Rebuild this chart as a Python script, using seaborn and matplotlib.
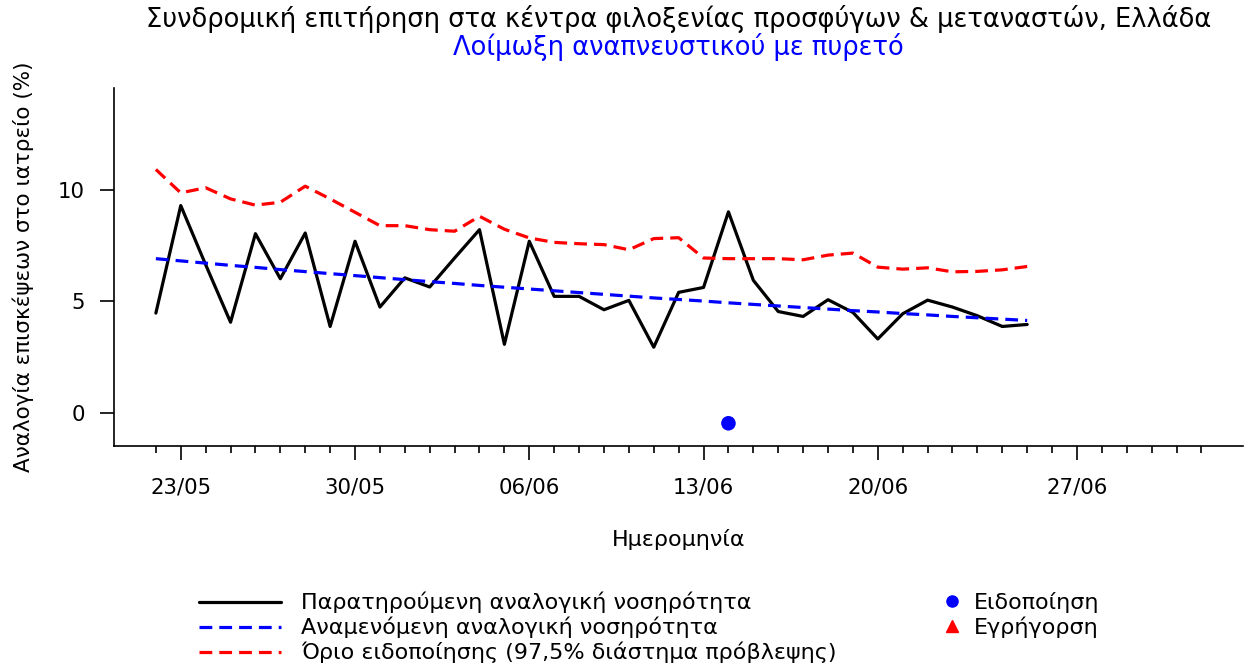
import numpy as np
import pandas as pd
import seaborn as sns
import matplotlib.pyplot as plt
from matplotlib.lines import Line2D

# daily values, 22/05 - 26/06
dates = pd.date_range('2023-05-22', '2023-06-26', freq='D')
observed = [4.46, 9.28, 6.63, 4.05, 8.02, 6.00, 8.05, 3.86, 7.68, 4.73,
            6.04, 5.63, 6.93, 8.20, 3.06, 7.68, 5.21, 5.21, 4.61, 5.03,
            2.93, 5.39, 5.61, 9.00, 5.93, 4.53, 4.31, 5.06, 4.49, 3.30,
            4.43, 5.04, 4.73, 4.34, 3.86, 3.95]
expected = [6.90, 6.80, 6.70, 6.60, 6.51, 6.41, 6.32, 6.23, 6.14, 6.05,
            5.96, 5.87, 5.79, 5.70, 5.62, 5.54, 5.46, 5.38, 5.30, 5.22,
            5.14, 5.07, 5.00, 4.92, 4.85, 4.78, 4.71, 4.64, 4.57, 4.51,
            4.44, 4.38, 4.31, 4.25, 4.19, 4.13]
threshold = [10.90, 9.85, 10.08, 9.58, 9.30, 9.43, 10.15, 9.58, 8.98, 8.38,
             8.38, 8.20, 8.13, 8.80, 8.22, 7.83, 7.63, 7.57, 7.53, 7.30,
             7.80, 7.84, 6.93, 6.90, 6.90, 6.90, 6.85, 7.06, 7.15, 6.52,
             6.43, 6.49, 6.31, 6.33, 6.40, 6.55]

# alarms (plotted just under zero)
alarm_dates = pd.to_datetime(['2023-06-14'])
alarm_y = [-0.48]

tick_dates = pd.to_datetime(['2023-05-23', '2023-05-30', '2023-06-06',
                             '2023-06-13', '2023-06-20', '2023-06-28'])
tick_labels = ['23/05', '30/05', '06/06', '13/06', '20/06', '27/06']
minor_dates = pd.date_range('2023-05-22', '2023-07-03', freq='D')

df = pd.DataFrame({'date': dates, 'observed': observed,
                   'expected': expected, 'threshold': threshold})

sns.set_style('ticks', {'text.color': 'black', 'axes.labelcolor': 'black',
                        'xtick.color': 'black', 'ytick.color': 'black',
                        'axes.edgecolor': 'black'})
plt.rcParams['font.family'] = ['DejaVu Sans']

fig = plt.figure(figsize=(12.45, 6.67), dpi=100)
ax = fig.add_axes([0.0916, 0.3313, 0.9068, 0.5367])

sns.lineplot(data=df, x='date', y='observed', color='black', lw=2.3, ax=ax)
sns.lineplot(data=df, x='date', y='expected', color='blue', lw=2.3, ax=ax)
ax.lines[-1].set_dashes((4, 2.2))
sns.lineplot(data=df, x='date', y='threshold', color='red', lw=2.3, ax=ax)
ax.lines[-1].set_dashes((4, 2.2))
sns.scatterplot(x=alarm_dates, y=alarm_y, color='blue', s=110,
                edgecolor='none', ax=ax, zorder=5)

ax.set_xlim(pd.Timestamp('2023-05-23') - pd.Timedelta(days=2.68),
            pd.Timestamp('2023-05-23') + pd.Timedelta(days=42.67))
ax.set_ylim(-1.5, 14.55)
ax.set_yticks([0, 5, 10])
ax.set_xticks(tick_dates)
ax.set_xticklabels(tick_labels)
ax.set_xticks(minor_dates, minor=True)
ax.tick_params(axis='both', which='major', length=10, width=1.2,
               labelsize=15.3)
ax.tick_params(axis='x', which='major', pad=13)
ax.tick_params(axis='y', which='major', pad=11)
ax.tick_params(axis='x', which='minor', length=5, width=1.2)
for s in ['left', 'bottom']:
    ax.spines[s].set_linewidth(1.2)
sns.despine(ax=ax)

ax.set_xlabel('Ημερομηνία', fontsize=16, labelpad=22)
ax.set_ylabel('Αναλογία επισκέψεων στο ιατρείο (%)', fontsize=15.5,
              labelpad=17)

fig.text(0.545, 0.972, 'Συνδρομική επιτήρηση στα κέντρα φιλοξενίας προσφύγων & μεταναστών, Ελλάδα',
         ha='center', va='center', fontsize=18.5)
fig.text(0.545, 0.93, 'Λοίμωξη αναπνευστικού με πυρετό',
         ha='center', va='center', fontsize=18.5, color='blue')

h1 = [Line2D([], [], color='black', lw=2.3),
      Line2D([], [], color='blue', lw=2.3, dashes=(4, 2.2)),
      Line2D([], [], color='red', lw=2.3, dashes=(4, 2.2))]
l1 = ['Παρατηρούμενη αναλογική νοσηρότητα',
      'Αναμενόμενη αναλογική νοσηρότητα',
      'Όριο ειδοποίησης (97,5% διάστημα πρόβλεψης)']
fig.legend(h1, l1, loc='upper left', bbox_to_anchor=(0.1527, 0.126),
           frameon=False, fontsize=16, handlelength=3.7,
           handletextpad=0.9, labelspacing=0.16, borderaxespad=0)
h2 = [Line2D([], [], color='blue', marker='o', ls='none', markersize=8),
      Line2D([], [], color='red', marker='^', ls='none', markersize=8)]
l2 = ['Ειδοποίηση', 'Εγρήγορση']
fig.legend(h2, l2, loc='upper left', bbox_to_anchor=(0.7487, 0.126),
           frameon=False, fontsize=16, handlelength=1.0,
           handletextpad=0.5, labelspacing=0.16, borderaxespad=0)

fig.savefig('out.png', dpi=100)
